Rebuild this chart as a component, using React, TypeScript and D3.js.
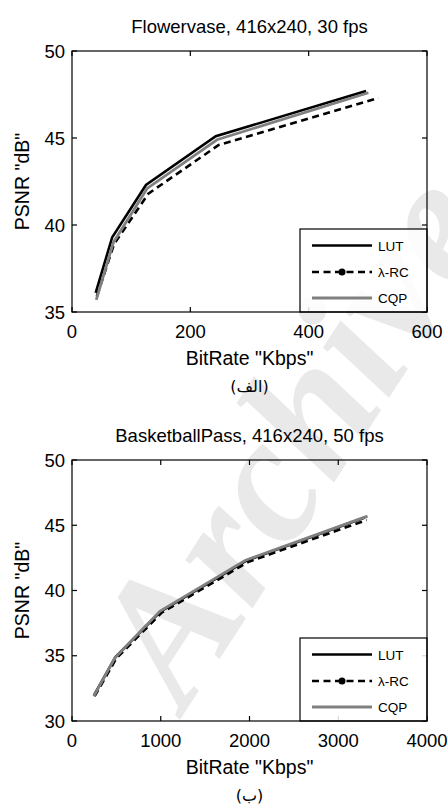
import React from "react";
import * as d3 from "d3";

// ---- Data (Flowervase) ----
const fvLutX = [40, 68, 125, 243, 497];
const fvLutY = [36.1, 39.3, 42.3, 45.1, 47.7];
const fvRcX = [42, 71, 129, 248, 518];
const fvRcY = [35.9, 38.9, 41.8, 44.6, 47.3];
const fvCqpX = [41, 70, 127, 245, 501];
const fvCqpY = [35.7, 39.0, 42.1, 44.9, 47.6];
const fvXTicks = [0, 200, 400, 600];
const fvYTicks = [35, 40, 45, 50];

// ---- Data (BasketballPass) ----
const bpLutX = [250, 490, 1000, 1970, 3300];
const bpLutY = [32.0, 34.9, 38.4, 42.3, 45.6];
const bpRcX = [255, 500, 1010, 1990, 3320];
const bpRcY = [31.9, 34.8, 38.3, 42.2, 45.4];
const bpCqpX = [245, 480, 990, 1950, 3330];
const bpCqpY = [31.9, 34.8, 38.4, 42.3, 45.7];
const bpXTicks = [0, 1000, 2000, 3000, 4000];
const bpYTicks = [30, 35, 40, 45, 50];

const legendLabels = ["LUT", "λ-RC", "CQP"];

const FONT = "'Liberation Sans', Arial, sans-serif";

type Series = { x: number[]; y: number[] };

function Panel(props: {
  top: number;
  title: string;
  caption: string;
  xDomain: [number, number];
  yDomain: [number, number];
  xTicks: number[];
  yTicks: number[];
  lut: Series;
  rc: Series;
  cqp: Series;
}) {
  const left = 72;
  const right = 427;
  const top = props.top;
  const bottom = top + 261;
  const x = d3.scaleLinear().domain(props.xDomain).range([left, right]);
  const y = d3.scaleLinear().domain(props.yDomain).range([bottom, top]);
  const line = d3
    .line<[number, number]>()
    .x((d) => x(d[0]))
    .y((d) => y(d[1]));
  const pts = (s: Series) => s.x.map((v, i) => [v, s.y[i]] as [number, number]);
  const tl = 5;
  const lgTop = bottom - 83;
  const lgLeft = 300;
  const rows = [lgTop + 16.5, lgTop + 43, lgTop + 69];
  return (
    <g>
      <text x={(left + right) / 2} y={top - 18} textAnchor="middle" fontFamily={FONT} fontSize={18.5}>
        {props.title}
      </text>
      {/* curves */}
      <path d={line(pts(props.lut)) || ""} fill="none" stroke="#000" strokeWidth={2.6} />
      <path d={line(pts(props.rc)) || ""} fill="none" stroke="#000" strokeWidth={2.6} strokeDasharray="7,4.5" />
      <path d={line(pts(props.cqp)) || ""} fill="none" stroke="#808080" strokeWidth={2.8} />
      {props.xTicks.map((t) => (
        <g key={"xt" + t}>
          <line x1={x(t)} x2={x(t)} y1={bottom} y2={bottom - tl} stroke="#000" strokeWidth={1.2} />
          <line x1={x(t)} x2={x(t)} y1={top} y2={top + tl} stroke="#000" strokeWidth={1.2} />
          <text x={x(t)} y={bottom + 26} textAnchor="middle" fontFamily={FONT} fontSize={18.5}>
            {t}
          </text>
        </g>
      ))}
      {props.yTicks.map((t) => (
        <g key={"yt" + t}>
          <line x1={left} x2={left + tl} y1={y(t)} y2={y(t)} stroke="#000" strokeWidth={1.2} />
          <line x1={right} x2={right - tl} y1={y(t)} y2={y(t)} stroke="#000" strokeWidth={1.2} />
          <text x={left - 7} y={y(t) + 6.5} textAnchor="end" fontFamily={FONT} fontSize={18.5}>
            {t}
          </text>
        </g>
      ))}
      <text x={(left + right) / 2} y={bottom + 53} textAnchor="middle" fontFamily={FONT} fontSize={19.5}>
        BitRate "Kbps"
      </text>
      <text
        transform={`translate(${22},${(top + bottom) / 2}) rotate(-90)`}
        textAnchor="middle"
        fontFamily={FONT}
        fontSize={19.5}
        dy="0.35em"
      >
        PSNR "dB"
      </text>
      <text x={(left + right) / 2} y={bottom + 80} textAnchor="middle" fontFamily="'DejaVu Sans', sans-serif" fontSize={16} direction="rtl">
        {props.caption}
      </text>
      {/* legend */}
      <rect x={lgLeft} y={lgTop} width={right - lgLeft} height={bottom - lgTop} fill="#fff" fillOpacity={0.85} stroke="#000" strokeWidth={1.2} />
      <line x1={lgLeft + 12} x2={lgLeft + 72} y1={rows[0]} y2={rows[0]} stroke="#000" strokeWidth={2.6} />
      <line x1={lgLeft + 12} x2={lgLeft + 72} y1={rows[1]} y2={rows[1]} stroke="#000" strokeWidth={2.6} strokeDasharray="7,4.5" />
      <circle cx={lgLeft + 42} cy={rows[1]} r={3.5} fill="#000" />
      <line x1={lgLeft + 12} x2={lgLeft + 72} y1={rows[2]} y2={rows[2]} stroke="#808080" strokeWidth={2.8} />
      {legendLabels.map((l, i) => (
        <text key={l} x={lgLeft + 78} y={rows[i] + 5} fontFamily={FONT} fontSize={13.5}>
          {l}
        </text>
      ))}
      <rect x={left} y={top} width={right - left} height={bottom - top} fill="none" stroke="#000" strokeWidth={1.2} />
    </g>
  );
}

export default function App() {
  return (
    <svg
      width={448}
      height={807}
      style={{ position: "absolute", left: 0, top: 0, background: "#fff" }}
    >
      <rect width={448} height={807} fill="#fff" />
      <text
        transform="translate(185,712) rotate(-57)"
        fontFamily="'Liberation Serif', 'DejaVu Serif', serif"
        fontStyle="italic"
        fontWeight="bold"
        fontSize={180}
        fill="#e9e9e9"
      >
        Archive
      </text>
      <Panel
        top={51}
        title="Flowervase, 416x240, 30 fps"
        caption="(الف)"
        xDomain={[0, 600]}
        yDomain={[35, 50]}
        xTicks={fvXTicks}
        yTicks={fvYTicks}
        lut={{ x: fvLutX, y: fvLutY }}
        rc={{ x: fvRcX, y: fvRcY }}
        cqp={{ x: fvCqpX, y: fvCqpY }}
      />
      <Panel
        top={460}
        title="BasketballPass, 416x240, 50 fps"
        caption="(ب)"
        xDomain={[0, 4000]}
        yDomain={[30, 50]}
        xTicks={bpXTicks}
        yTicks={bpYTicks}
        lut={{ x: bpLutX, y: bpLutY }}
        rc={{ x: bpRcX, y: bpRcY }}
        cqp={{ x: bpCqpX, y: bpCqpY }}
      />
    </svg>
  );
}
